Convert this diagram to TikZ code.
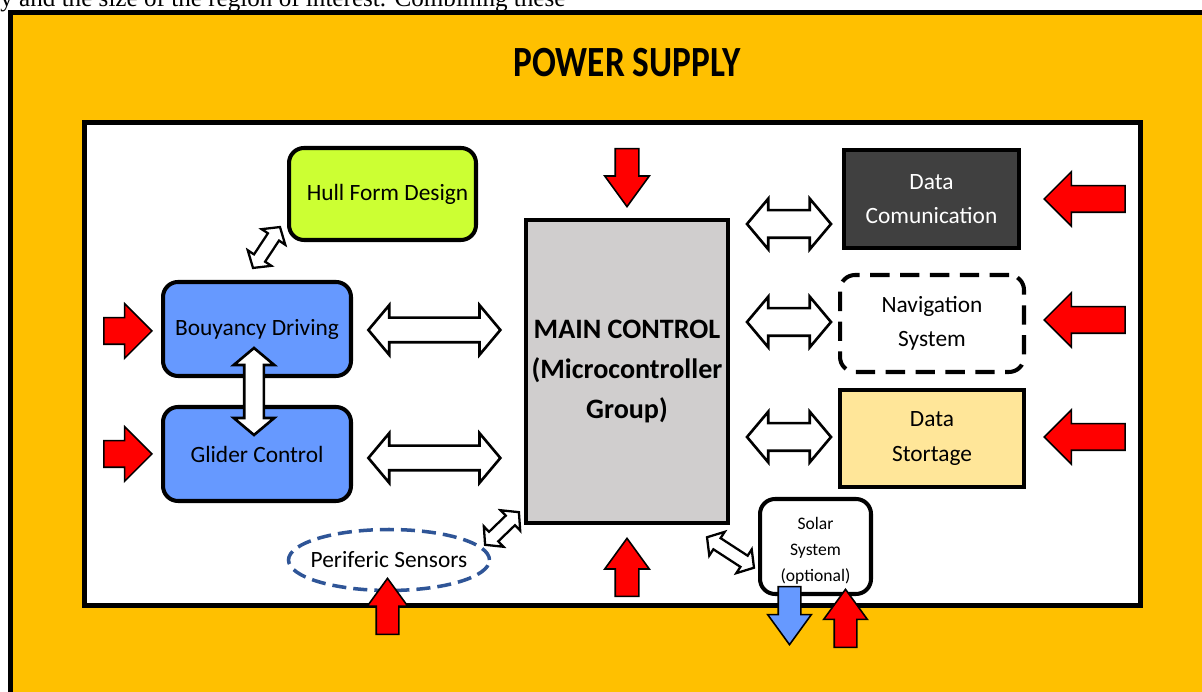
\documentclass[tikz,border=0pt]{standalone}
\usepackage{fontspec}
\setmainfont{Carlito}
\newfontfamily\pagefont{Liberation Serif}
\usepackage{tikz}
\usetikzlibrary{shapes.geometric, shapes.arrows, calc}

\definecolor{supply}{HTML}{FFC000}
\definecolor{hullgreen}{HTML}{CCFF33}
\definecolor{glideblue}{HTML}{6699FF}
\definecolor{maingray}{HTML}{D0CECE}
\definecolor{commgray}{HTML}{404040}
\definecolor{storeyellow}{HTML}{FFE699}
\definecolor{sensorblue}{HTML}{2F5597}

\tikzstyle{block} = [draw=black, line width=2.3pt, align=center, font=\fontsize{13.3}{19.5}\selectfont]
\tikzstyle{roundblock} = [block, rounded corners=0.3cm]
\tikzstyle{feed} = [single arrow, draw=black, fill=red, line width=0.9pt, inner xsep=0pt, inner ysep=0.25cm, single arrow head extend=0.28cm, anchor=tip]
\tikzstyle{smallfeed} = [feed, inner ysep=0.22cm, single arrow head extend=0.21cm, single arrow tip angle=72]
\tikzstyle{link} = [double arrow, draw=black, fill=white, line width=1.5pt, inner xsep=0pt, inner ysep=0.22cm, double arrow head extend=0.25cm, double arrow tip angle=100]
\tikzstyle{smalllink} = [link, line width=1.3pt, inner ysep=0.11cm, double arrow head extend=0.15cm]

\begin{document}
\begin{tikzpicture}[x=0.02cm, y=0.02cm]
    \useasboundingbox[fill=white] (0,0) rectangle (1202,692);
    \node[anchor=base west, font=\pagefont\fontsize{14.3}{16}\selectfont, inner sep=0pt] (pagetext) at (0,685) {y and the size of the region of interest. Combining these};

    % supply frame and board
    \draw[fill=supply, line width=2.85pt] (10.5,-20) rectangle (1240,679.5);
    \draw[fill=white, line width=2.85pt] (84.5,86.5) rectangle (1140,569);
    \node[font=\bfseries\fontsize{24.5}{28}\selectfont] (title) at (627,629) {\scalebox{0.82}[1]{POWER SUPPLY}};

    % blocks
    \node[roundblock, fill=hullgreen, minimum width=3.74cm, minimum height=1.84cm] (hull) at (382.5,498) {\hspace{0.2cm}Hull Form Design};
    \node[roundblock, fill=glideblue, minimum width=3.76cm, minimum height=1.88cm] (bouy) at (257,363) {Bouyancy Driving};
    \node[roundblock, fill=glideblue, minimum width=3.76cm, minimum height=1.88cm] (glider) at (257,238) {Glider Control};
    \node[block, fill=maingray, minimum width=4cm, minimum height=6.06cm, font=\bfseries\fontsize{16}{23}\selectfont] (main) at (627,320.5) {MAIN CONTROL\\(Microcontroller\\Group)};
    \node[block, fill=commgray, text=white, minimum width=3.5cm, minimum height=1.96cm] (comm) at (931.5,493) {Data\\Comunication};
    \node[roundblock, dashed, dash pattern=on 11pt off 6pt, fill=white, minimum width=3.68cm, minimum height=1.94cm] (nav) at (932,368.5) {Navigation\\System};
    \node[block, fill=storeyellow, minimum width=3.68cm, minimum height=1.94cm] (store) at (932,253.5) {Data\\Stortage};
    \node[roundblock, fill=white, minimum width=2.22cm, minimum height=1.9cm, font=\fontsize{10}{14.8}\selectfont] (solar) at (815.5,145.5) {\\[-3pt]Solar\\System\\(optional)};
    \node[ellipse, draw=sensorblue, line width=2pt, dash pattern=on 8pt off 4pt, fill=white, inner sep=0pt, minimum width=4.02cm, minimum height=1.22cm, font=\fontsize{13.3}{16}\selectfont] (sensors) at (389,132) {\makebox[2.4cm]{Periferic Sensors}};

    % power feeds
    \node[feed, minimum height=0.96cm] (bouyin) at (153,361) {};
    \node[feed, minimum height=0.96cm] (gliderin) at (153,238) {};
    \node[feed, rotate=180, minimum height=1.62cm] (commin) at (1043,493) {};
    \node[feed, rotate=180, minimum height=1.62cm] (navin) at (1043,372) {};
    \node[feed, rotate=180, minimum height=1.62cm] (storein) at (1043,255) {};
    \node[smallfeed, rotate=-90, minimum height=1.16cm] (maintop) at (627,484) {};
    \node[smallfeed, rotate=90, minimum height=1.16cm] (mainbottom) at (627,155) {};
    \node[smallfeed, rotate=90, minimum height=1.12cm, inner ysep=0.21cm, single arrow head extend=0.18cm] (sensorsin) at (387.5,115) {};
    \node[smallfeed, rotate=-90, minimum height=1.16cm, fill=glideblue, inner ysep=0.21cm] (solarout) at (789.5,46) {};
    \node[smallfeed, rotate=90, minimum height=1.16cm, inner ysep=0.21cm] (solarin) at (845.5,104) {};

    % links between blocks
    \node[link, minimum height=2.64cm] (bouy-main) at ($(bouy.east)!0.5!(bouy.east -| main.west)+(-4,-1)$) {};
    \node[link, minimum height=2.64cm] (glider-main) at ($(glider.east)!0.5!(glider.east -| main.west)+(-4,-4)$) {};
    \node[link, minimum height=1.68cm, inner ysep=0.25cm, double arrow head extend=0.23cm] (main-comm) at (789,468) {};
    \node[link, minimum height=1.68cm, inner ysep=0.25cm, double arrow head extend=0.23cm] (main-nav) at ($(nav.west)+(-49,1.5)$) {};
    \node[link, minimum height=1.68cm, inner ysep=0.25cm, double arrow head extend=0.23cm] (main-store) at ($(store.west)+(-49,1.5)$) {};
    \node[link, rotate=90, minimum height=1.74cm, inner ysep=0.17cm, double arrow head extend=0.21cm] (bouy-glider) at ($(bouy.south)!0.5!(glider.north)+(-3,0)$) {};
    \node[smalllink, rotate=56.6, minimum height=0.98cm] (bouy-hull) at (266.5,444.5) {};
    \node[smalllink, rotate=44, minimum height=0.94cm] (sensors-main) at (502,163.5) {};
    \node[smalllink, rotate=-33, minimum height=1.12cm] (main-solar) at (730.5,139.5) {};
\end{tikzpicture}
\end{document}
